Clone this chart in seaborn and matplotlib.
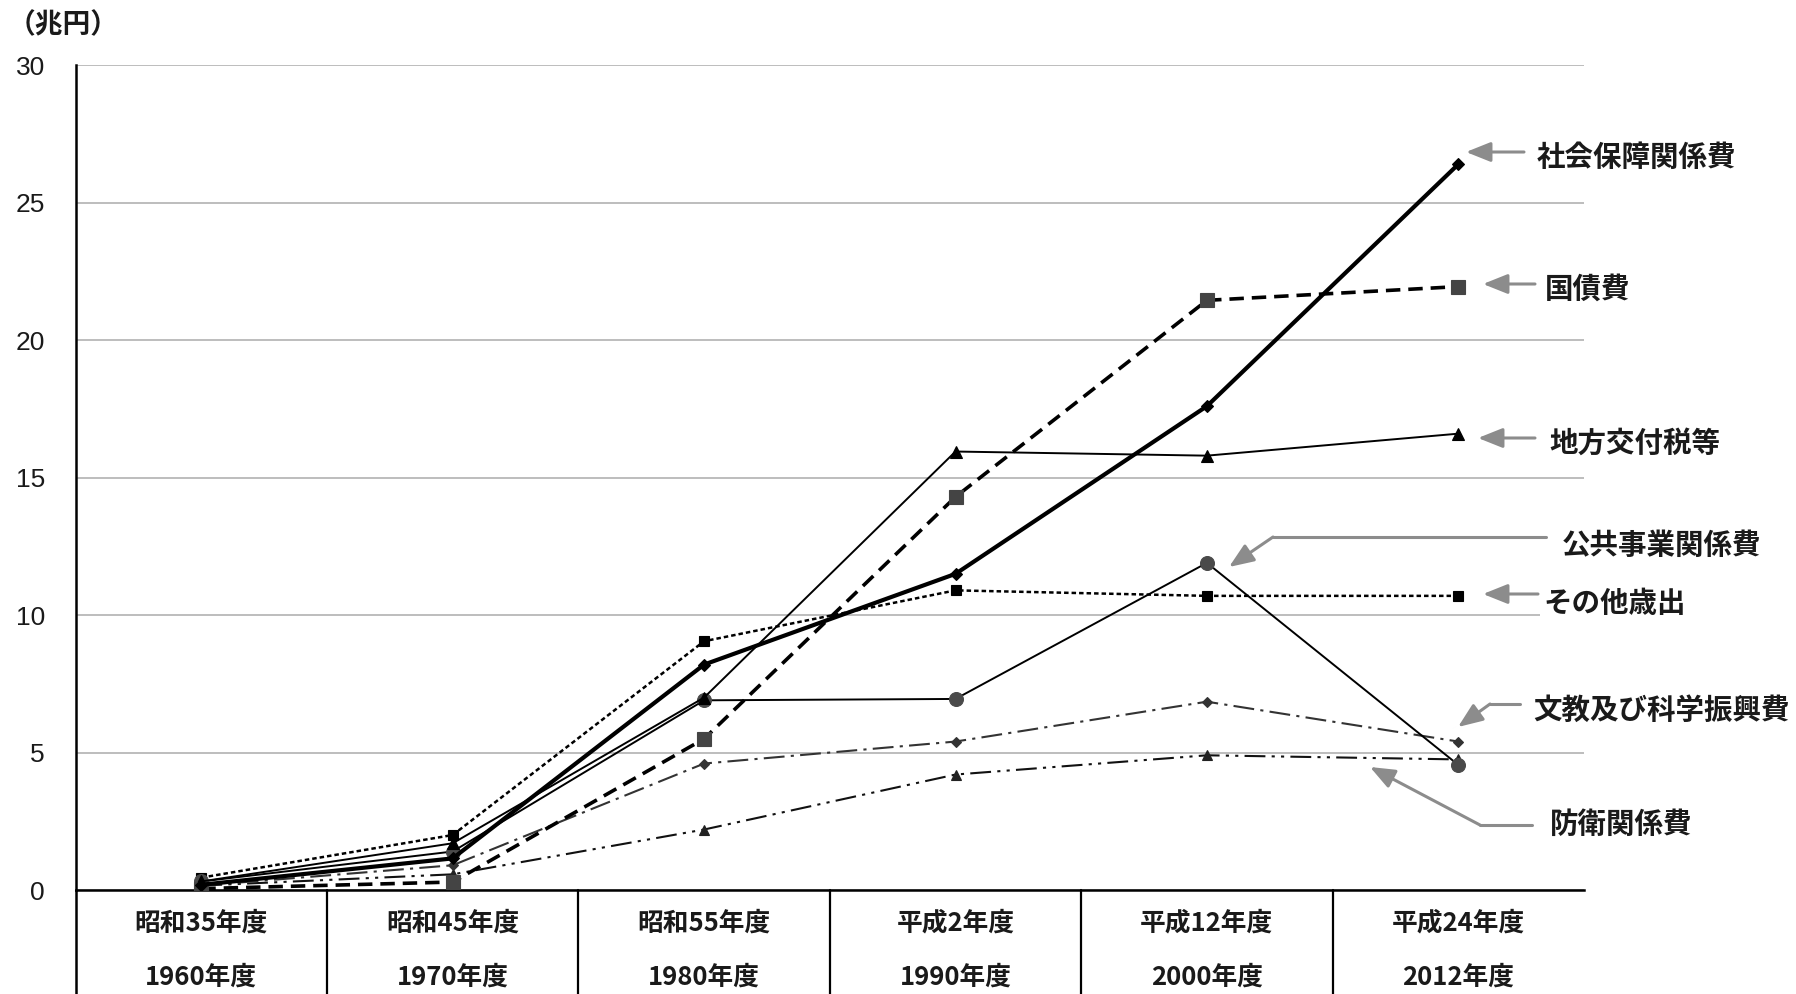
import numpy as np
import pandas as pd
import matplotlib
matplotlib.use("Agg")
import matplotlib.pyplot as plt
import matplotlib.transforms as mtransforms
from matplotlib.lines import Line2D
import seaborn as sns

# ---- data (兆円) ----
era_labels = ["昭和35年度", "昭和45年度", "昭和55年度", "平成2年度", "平成12年度", "平成24年度"]
year_labels = ["1960年度", "1970年度", "1980年度", "1990年度", "2000年度", "2012年度"]

social_security = [0.19, 1.15, 8.2, 11.5, 17.6, 26.4]
debt_service = [0.05, 0.29, 5.5, 14.3, 21.45, 21.95]
local_allocation = [0.31, 1.7, 7.0, 15.95, 15.8, 16.6]
public_works = [0.31, 1.4, 6.9, 6.95, 11.9, 4.55]
other_spending = [0.45, 2.0, 9.05, 10.9, 10.7, 10.7]
education_science = [0.16, 0.9, 4.6, 5.4, 6.85, 5.4]
defense = [0.16, 0.57, 2.2, 4.2, 4.9, 4.75]

W, H = 1796, 994
sns.set_style("white")
plt.rcParams["font.family"] = ["Noto Sans CJK JP", "DejaVu Sans"]
TEXT_WEIGHT = "bold"
TEXT_COLOR = "#1a1a1a"

fig = plt.figure(figsize=(W / 100, H / 100), dpi=100)
ax = fig.add_axes([75.6 / W, 1 - 890 / H, (1584 - 75.6) / W, (890 - 65.3) / H])

x = np.arange(len(era_labels))

series = [
    # values, line style, width, marker, marker size, face colour, line colour, zorder
    (defense, (0, (10, 3, 1.5, 3, 1.5, 3)), 1.5, "^", 7, "#222222", "#111111", 3),
    (education_science, (0, (10, 3, 1.5, 3)), 1.5, "D", 5, "#333333", "#333333", 3),
    (other_spending, (0, (1.8, 1.2)), 1.8, "s", 6.5, "#000000", "black", 4),
    (public_works, "-", 1.4, "o", 10, "#4a4a4a", "black", 5),
    (local_allocation, "-", 1.4, "^", 8, "#000000", "black", 5),
    (debt_service, (0, (4.0, 2.2)), 2.6, "s", 10, "#444444", "black", 6),
    (social_security, "-", 3.0, "D", 6.5, "#000000", "black", 7),
]

for vals, ls, lw, mk, ms, fc, lc, z in series:
    sns.lineplot(x=x, y=vals, ax=ax, color=lc, linestyle=ls, linewidth=lw,
                 marker=mk, markersize=ms, markerfacecolor=fc, markeredgecolor=fc,
                 markeredgewidth=0.8, zorder=z, legend=False)

ax.set_xlim(-0.5, 5.5)
ax.set_ylim(0, 30)
ax.set_yticks(np.arange(0, 31, 5))
ax.set_xticks([])
ax.set_xlabel("")
ax.set_ylabel("")

ax.yaxis.grid(True, color="#b8b8b8", linewidth=1.3)
ax.xaxis.grid(False)
for side in ("top", "right"):
    ax.spines[side].set_visible(False)
for side in ("left", "bottom"):
    ax.spines[side].set_color("black")
    ax.spines[side].set_linewidth(1.8)

ax.tick_params(axis="y", direction="in", length=5, width=1.5, color="#222222",
               pad=22, labelsize=19, labelcolor=TEXT_COLOR)
for t in ax.get_yticklabels():
    t.set_fontfamily("Liberation Sans")

# category boundaries: ticks across the axis and separators down through the label area
bounds = np.arange(0.5, 5.6, 1.0)
ax.set_xticks(bounds, minor=True)
ax.tick_params(axis="x", which="minor", direction="inout", length=16, width=1.5, color="black")
blend = mtransforms.blended_transform_factory(ax.transData, ax.transAxes)
for b in list(bounds[:-1]) + [-0.5]:
    ax.add_line(Line2D([b, b], [0, -0.14], transform=blend, color="black",
                       linewidth=1.6 if b > 0 else 1.8, clip_on=False))

for i, (era, yr) in enumerate(zip(era_labels, year_labels)):
    ax.text(i, -0.040, era, transform=blend, ha="center", va="center",
            fontsize=18.5, color=TEXT_COLOR, fontweight=TEXT_WEIGHT)
    ax.text(i, -0.1055, yr, transform=blend, ha="center", va="center",
            fontsize=18.5, color=TEXT_COLOR, fontweight=TEXT_WEIGHT)

fig.text(8 / W, 1 - 25 / H, "（兆円）", ha="left", va="center", fontsize=20,
         color=TEXT_COLOR, fontweight=TEXT_WEIGHT)


# ---- series labels with leader arrows (figure pixel positions, origin top-left) ----
def fp(px, py):
    return (px / W, 1 - py / H)


def label(px, py, s):
    fig.text(*fp(px, py), s, ha="left", va="center", fontsize=20.5, color=TEXT_COLOR,
             fontweight=TEXT_WEIGHT,
             bbox=dict(boxstyle="square,pad=0.1", fc="white", ec="none"))


arrow_kw = dict(arrowstyle="-|>,head_length=0.75,head_width=0.3", color="#8c8c8c",
                lw=2.2, mutation_scale=20, shrinkA=0, shrinkB=0)


def arrow(tail, tip):
    fig.add_artist(matplotlib.patches.FancyArrowPatch(fp(*tail), fp(*tip),
                   transform=fig.transFigure, **arrow_kw))


def leader(p1, p2):
    fig.add_artist(Line2D([p1[0] / W, p2[0] / W], [1 - p1[1] / H, 1 - p2[1] / H],
                          transform=fig.transFigure, color="#8c8c8c", linewidth=2.2))


label(1537, 158, "社会保障関係費")
arrow((1524, 152), (1466, 152))

label(1545, 290, "国債費")
arrow((1535, 284), (1483, 284))

label(1549, 444, "地方交付税等")
arrow((1535, 438), (1478, 438))

label(1562, 546, "公共事業関係費")
leader((1546, 537), (1273, 537))
arrow((1273, 537), (1229, 567))

label(1543, 604, "その他歳出")
arrow((1538, 594), (1483, 594))

label(1533, 711, "文教及び科学振興費")
leader((1520, 704), (1490, 704))
arrow((1490, 704), (1458, 727))

label(1550, 825, "防衛関係費")
leader((1532, 825), (1480, 825))
arrow((1480, 825), (1370, 767))

fig.savefig("out.png", dpi=100, facecolor="white")
